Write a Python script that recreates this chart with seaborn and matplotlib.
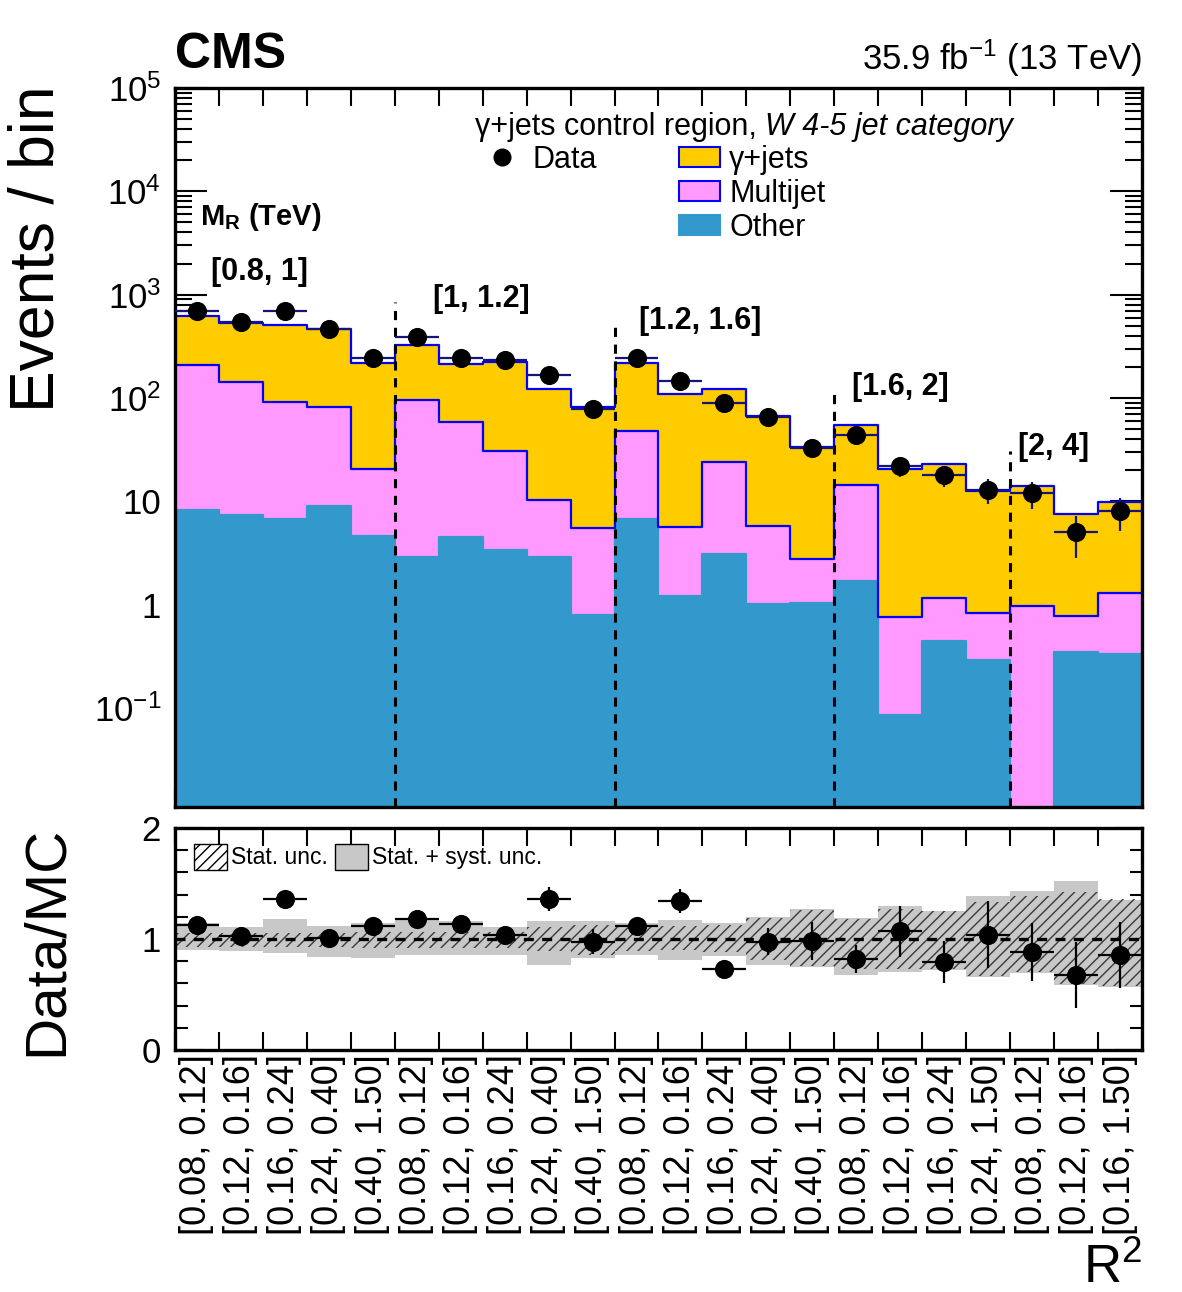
import numpy as np
import pandas as pd
import matplotlib
matplotlib.use("Agg")
import matplotlib.pyplot as plt
from matplotlib.patches import Patch
from matplotlib.lines import Line2D
from matplotlib.ticker import FixedLocator, FixedFormatter, LogLocator, NullFormatter, MultipleLocator
import seaborn as sns

# R^2 bins (x axis), grouped by M_R ranges
r2_bins = ["[0.08, 0.12]", "[0.12, 0.16]", "[0.16, 0.24]", "[0.24, 0.40]", "[0.40, 1.50]",
           "[0.08, 0.12]", "[0.12, 0.16]", "[0.16, 0.24]", "[0.24, 0.40]", "[0.40, 1.50]",
           "[0.08, 0.12]", "[0.12, 0.16]", "[0.16, 0.24]", "[0.24, 0.40]", "[0.40, 1.50]",
           "[0.08, 0.12]", "[0.12, 0.16]", "[0.16, 0.24]", "[0.24, 1.50]",
           "[0.08, 0.12]", "[0.12, 0.16]", "[0.16, 1.50]"]
mr_groups = ["[0.8, 1]", "[1, 1.2]", "[1.2, 1.6]", "[1.6, 2]", "[2, 4]"]
group_edges = [5, 10, 15, 19]

# stacked backgrounds (events / bin)
gjets = [405, 392, 419, 386, 198, 230, 156, 194, 113, 76, 170, 103, 99, 61, 31, 41,
         19.7, 21.8, 11.7, 13.0, 6.8, 8.5]
multijet = [202, 136, 84, 72, 16, 93, 54, 27, 7.3, 4.7, 41, 4.4, 21, 4.7, 1.7, 12.6,
            0.68, 0.73, 0.54, 0.98, 0.43, 0.97]
other = [8.2, 7.3, 6.8, 9.1, 4.6, 2.9, 4.5, 3.4, 2.9, 0.80, 6.7, 1.22, 3.1, 1.02, 1.04, 1.7,
         0.086, 0.44, 0.29, 0.0, 0.35, 0.33]

# observed data
data = [690, 540, 690, 465, 245, 385, 245, 232, 167, 79, 246, 146, 89, 65, 33, 44,
        22, 18, 13, 12, 5, 8]
data_err = [26.3, 23.2, 26.3, 21.6, 15.7, 19.6, 15.7, 15.2, 12.9, 8.9, 15.7, 12.1, 9.4, 8.1,
            5.7, 6.6, 4.7, 4.2, 3.6, 3.5, 2.2, 2.8]

# ratio panel
ratio = [1.13, 1.03, 1.36, 1.005, 1.12, 1.18, 1.135, 1.04, 1.36, 0.976, 1.12, 1.34, 0.73,
         0.976, 0.98, 0.82, 1.07, 0.79, 1.04, 0.886, 0.676, 0.856]
ratio_err = [0.04, 0.04, 0.05, 0.05, 0.07, 0.06, 0.07, 0.07, 0.105, 0.11, 0.07, 0.11, 0.075,
             0.12, 0.17, 0.13, 0.23, 0.19, 0.30, 0.26, 0.30, 0.30]
syst_up = [0.14, 0.105, 0.18, 0.12, 0.145, 0.17, 0.16, 0.11, 0.165, 0.16, 0.145, 0.175, 0.14,
           0.20, 0.27, 0.19, 0.30, 0.255, 0.39, 0.435, 0.525, 0.355]
syst_down = [0.10, 0.105, 0.13, 0.165, 0.17, 0.14, 0.14, 0.14, 0.23, 0.17, 0.14, 0.19, 0.15,
             0.23, 0.25, 0.32, 0.30, 0.28, 0.34, 0.31, 0.41, 0.43]
stat_up = [0.055, 0.055, 0.055, 0.055, 0.06, 0.06, 0.06, 0.06, 0.11, 0.13, 0.12, 0.12, 0.13,
           0.19, 0.26, 0.18, 0.27, 0.255, 0.33, 0.39, 0.42, 0.36]
stat_down = [0.07, 0.07, 0.07, 0.07, 0.08, 0.08, 0.08, 0.08, 0.11, 0.14, 0.11, 0.10, 0.12,
             0.19, 0.24, 0.27, 0.27, 0.27, 0.33, 0.30, 0.405, 0.42]

YELLOW, PINK, BLUE, EDGE = "#ffcc00", "#ff99ff", "#3399cc", "#0000ff"

n = len(r2_bins)
edges = list(range(n + 1))
centers = np.arange(n) + 0.5

# long table for seaborn stacking
procs = ["γ+jets", "Multijet", "Other"]
df = pd.DataFrame({
    "bin": np.tile(centers, 3),
    "events": gjets + multijet + other,
    "process": np.repeat(procs, n),
})

sns.set_style("ticks")
plt.rcParams.update({
    "font.family": ["Liberation Sans", "DejaVu Sans"],
    "mathtext.fontset": "custom",
    "mathtext.rm": "Liberation Sans",
    "mathtext.it": "Liberation Sans:italic",
    "mathtext.bf": "Liberation Sans:bold",
    "hatch.linewidth": 1.0,
    "text.color": "black",
    "axes.labelcolor": "black",
    "axes.edgecolor": "black",
    "xtick.color": "black",
    "ytick.color": "black",
})

fig = plt.figure(figsize=(11.82, 12.92), dpi=100)
ax = fig.add_axes([0.14805, 0.37539, 0.8181, 0.5565])
rax = fig.add_axes([0.14805, 0.18731, 0.8181, 0.17183])

# === main panel ===
sns.histplot(data=df, x="bin", weights="events", hue="process", hue_order=procs,
             multiple="stack", bins=edges, element="step", fill=True, alpha=1,
             linewidth=0, palette=[YELLOW, PINK, BLUE], legend=False, ax=ax)
sns.histplot(data=df, x="bin", weights="events", hue="process", hue_order=procs,
             multiple="stack", bins=edges, element="step", fill=False,
             linewidth=1.6, palette=[EDGE, EDGE, BLUE], legend=False, ax=ax)
ax.set_yscale("log")
ax.set_xlim(0, n)
ax.set_ylim(0.011, 1e5)

# dashed separators between M_R groups
sep_tops = [850, 490, 117, 31]
ax.vlines(group_edges, 0.011, sep_tops, colors="k", linestyles=(0, (3, 2.5)), lw=2.2, zorder=5)

ax.errorbar(centers, data, xerr=0.5, yerr=data_err, fmt="none", ecolor="#14147a",
            elinewidth=1.6, capsize=0, zorder=6)
sns.scatterplot(x=centers, y=data, color="k", s=190, edgecolor="k", linewidth=0, zorder=7, ax=ax)

ax.set_xlabel("")
ax.set_ylabel("Events / bin", fontsize=45, loc="top")
ax.yaxis.set_label_coords(-0.112, 1.004)
ax.set_xticks(edges)
ax.set_xticklabels([])
ax.yaxis.set_major_locator(FixedLocator([1e-1, 1, 10, 1e2, 1e3, 1e4, 1e5]))
ax.yaxis.set_major_formatter(FixedFormatter(["$10^{-1}$", "1", "10", "$10^{2}$", "$10^{3}$",
                                             "$10^{4}$", "$10^{5}$"]))
ax.yaxis.set_minor_locator(LogLocator(base=10, subs=np.arange(2, 10), numticks=20))
ax.yaxis.set_minor_formatter(NullFormatter())
ax.tick_params(which="both", direction="in", top=True, right=True, width=1.5)
ax.tick_params(axis="y", which="major", length=23, labelsize=25, pad=10)
ax.tick_params(axis="y", which="minor", length=12)
ax.tick_params(axis="x", which="major", length=13)
for s in ax.spines.values():
    s.set_linewidth(2.4)

# group labels
label_pos = [(1.93, 1670), (6.96, 915), (11.95, 550), (16.5, 128), (19.98, 33.4)]
for lab, (x, y) in zip(mr_groups, label_pos):
    ax.text(x, y, lab, fontsize=22, fontweight="bold", ha="center", va="center")
ax.text(1.96, 5700, r"M$_\mathbf{R}$ (TeV)", fontsize=21, fontweight="bold", ha="center", va="center")

# header texts
ax.text(0.0, 1.028, "CMS", transform=ax.transAxes, fontsize=36, fontweight="bold", va="baseline")
ax.text(1.0, 1.025, "35.9 fb$^{-1}$ (13 TeV)", transform=ax.transAxes, fontsize=25,
        ha="right", va="baseline")

t1 = ax.text(0.310, 0.9346, "γ+jets control region, ", transform=ax.transAxes, fontsize=22,
             va="baseline")
ax.annotate("W 4-5 jet category", xy=(1, 0), xycoords=t1, fontsize=22, style="italic",
            va="bottom", ha="left")

blank = Patch(alpha=0)
handles = [Line2D([], [], marker="o", color="k", ls="none", ms=12), blank, blank,
           Patch(facecolor=YELLOW, edgecolor=EDGE, lw=1.5),
           Patch(facecolor=PINK, edgecolor=EDGE, lw=1.5),
           Patch(facecolor=BLUE, edgecolor=BLUE, lw=1.5)]
labels = ["Data", "", "", "γ+jets", "Multijet", "Other"]
ax.legend(handles, labels, ncol=2, loc="upper left", bbox_to_anchor=(0.3175, 0.921),
          frameon=False, fontsize=22, handlelength=1.34, handleheight=0.65,
          handletextpad=0.3, columnspacing=2.7, labelspacing=0.13, borderpad=0,
          borderaxespad=0)

# === ratio panel ===
rax.stairs(1 + np.array(syst_up), edges, baseline=1 - np.array(syst_down), fill=True,
           color="#c8c8c8", lw=0, zorder=1)
rax.stairs(1 + np.array(stat_up), edges, baseline=1 - np.array(stat_down), fill=True,
           facecolor="none", edgecolor="#3a3a3a", hatch="///", lw=0, zorder=2)
rax.axhline(1, color="k", ls=(0, (3, 2.5)), lw=2.4, zorder=3)
rax.errorbar(centers, ratio, xerr=0.5, yerr=ratio_err, fmt="none", ecolor="k",
             elinewidth=1.6, capsize=0, zorder=4)
sns.scatterplot(x=centers, y=ratio, color="k", s=190, edgecolor="k", linewidth=0, zorder=5, ax=rax)

rax.set_xlim(0, n)
rax.set_ylim(0, 2)
rax.set_yticks([0, 1, 2])
rax.yaxis.set_minor_locator(MultipleLocator(0.2))
rax.set_xticks(edges)
rax.set_xticklabels([])
rax.set_xticks(centers, minor=True)
rax.set_xticklabels(r2_bins, minor=True, rotation=90, fontsize=26)
rax.tick_params(which="both", direction="in", top=True, right=True, width=1.5)
rax.tick_params(axis="x", which="major", length=13)
rax.tick_params(axis="x", which="minor", length=0, pad=3)
rax.tick_params(axis="y", which="major", length=20, labelsize=25, pad=10)
rax.tick_params(axis="y", which="minor", length=9)
for s in rax.spines.values():
    s.set_linewidth(2.4)
rax.set_ylabel("Data/MC", fontsize=42, loc="top")
rax.yaxis.set_label_coords(-0.105, 1.01)
rax.set_xlabel("R$^2$", fontsize=38, loc="right")
rax.xaxis.set_label_coords(1.0, -0.875)

rax.legend([Patch(facecolor="white", edgecolor="k", hatch="///", lw=1),
            Patch(facecolor="#c8c8c8", edgecolor="k", lw=1)],
           ["Stat. unc.", "Stat. + syst. unc."], ncol=2, loc="upper left",
           bbox_to_anchor=(0.02, 0.93), frameon=False, fontsize=16.5, handlelength=1.44,
           handleheight=1.4, handletextpad=0.17, columnspacing=0.3, borderpad=0,
           borderaxespad=0)

fig.savefig("out.png", dpi=100)
